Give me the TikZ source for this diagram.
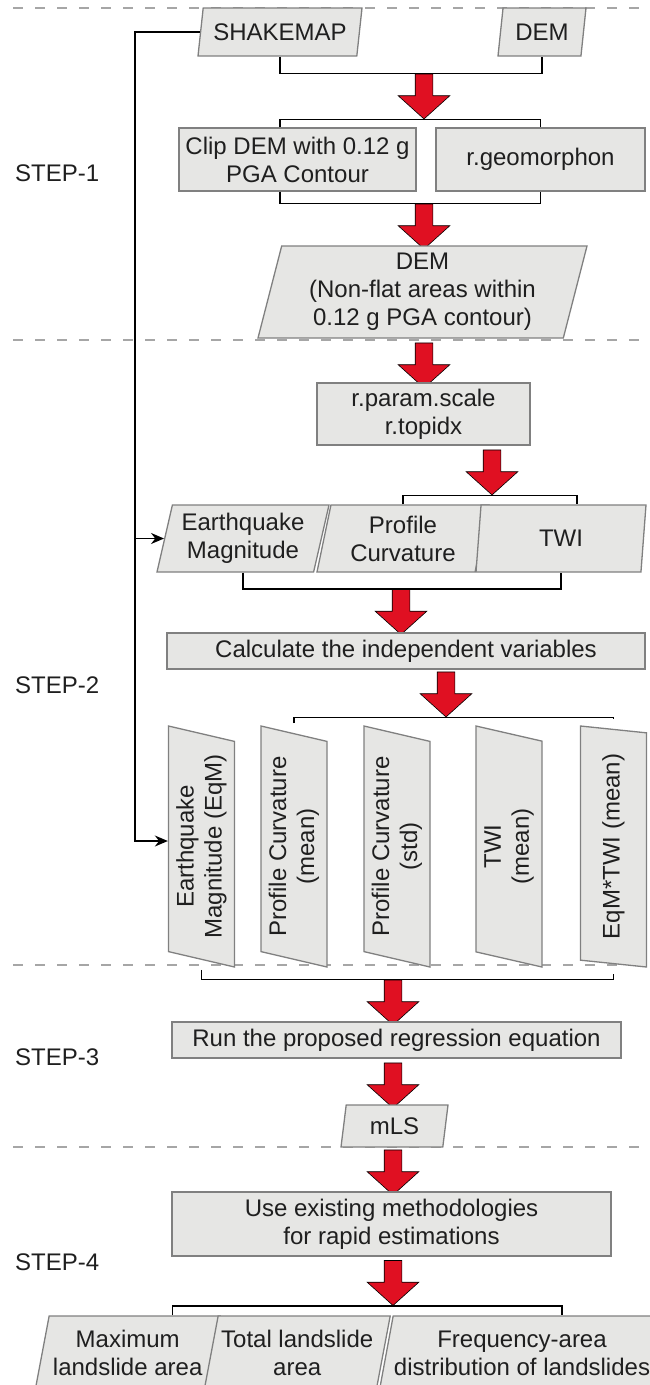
\documentclass[tikz,border=0pt]{standalone}
\usepackage{fontspec}
\setmainfont{Liberation Sans}
\usetikzlibrary{shapes.geometric,shapes.arrows,arrows.meta}
\definecolor{boxgray}{RGB}{230,230,228}
\definecolor{edgegray}{RGB}{128,128,128}
\definecolor{flowred}{RGB}{224,16,34}

\begin{document}
\begin{tikzpicture}
  [x=1pt,y=-1pt,
   every node/.style={font=\fontsize{24}{28}\selectfont,text=black!88,inner sep=0pt,align=center},
   procbox/.style={rectangle,draw=edgegray,fill=boxgray,line width=1.3pt},
   databox/.style={trapezium,trapezium left angle=73,trapezium right angle=107,
     trapezium stretches body,draw=edgegray,fill=boxgray,line width=1.3pt},
   fatarrow/.style={single arrow,draw=black,fill=flowred,line width=0.6pt,rotate=-90,
     inner xsep=0pt,inner ysep=8.5pt,minimum height=45pt,single arrow head extend=17pt,
     single arrow tip angle=96},
   link/.style={draw,line width=1.4pt},
   feed/.style={link,-{Stealth[length=13pt,width=11pt]}},
   divider/.style={draw=black!35,line width=1.2pt,dash pattern=on 10pt off 12pt}]

  \useasboundingbox (0,0) rectangle (649,1385);

  % dividers between the steps
  \draw[divider] (13,8) -- (649,8);
  \draw[divider] (13,340) -- (649,340);
  \draw[divider] (13,965) -- (649,965);
  \draw[divider] (13,1147) -- (649,1147);

  \node[anchor=west] (s1) at (15,173) {STEP-1};
  \node[anchor=west] (s2) at (15,685) {STEP-2};
  \node[anchor=west] (s3) at (15,1057) {STEP-3};
  \node[anchor=west] (s4) at (15,1262) {STEP-4};

  % step 1
  \node[databox,minimum width=164pt,minimum height=48pt] (shake) at (280,32) {SHAKEMAP};
  \node[databox,minimum width=88pt,minimum height=48pt] (dem) at (542,32) {DEM};
  \node[fatarrow] (a1) at (424,92.5) {};
  \node[procbox,minimum width=237pt,minimum height=63pt] (clip) at (297.5,159.5)
    {Clip DEM with 0.12 g\\PGA Contour};
  \node[procbox,minimum width=209pt,minimum height=63pt] (geo) at (540.5,159.5) {r.geomorphon};
  \node[fatarrow] (a2) at (424,222.5) {};
  \node[databox,minimum width=329pt,minimum height=92pt] (demnf) at (422.5,292)
    {DEM\\(Non-flat areas within\\0.12 g PGA contour)};

  % step 2
  \node[fatarrow] (a3) at (424,361.5) {};
  \node[procbox,minimum width=213pt,minimum height=62pt] (param) at (423.5,414)
    {r.param.scale\\r.topidx};
  \node[fatarrow] (a4) at (492,468.5) {};
  \node[databox,minimum width=172pt,minimum height=67pt] (eqm) at (243,538.5)
    {Earthquake\\Magnitude};
  \node[databox,minimum width=172pt,minimum height=67pt] (prof) at (403,538.5)
    {Profile\\Curvature};
  \node[databox,minimum width=170pt,minimum height=67pt] (twi) at (561,538.5) {TWI};
  \node[fatarrow] (a5) at (401,608) {};
  \node[procbox,minimum width=478pt,minimum height=36pt] (calc) at (406,651)
    {Calculate the independent variables};
  \node[fatarrow] (a6) at (446,690.5) {};
  \node[databox,rotate=90,minimum width=241pt,minimum height=66pt] (v1) at (201.5,846.5)
    {Earthquake\\Magnitude (EqM)};
  \node[databox,rotate=90,minimum width=241pt,minimum height=66pt] (v2) at (294,846.5)
    {Profile Curvature\\(mean)};
  \node[databox,rotate=90,minimum width=241pt,minimum height=66pt] (v3) at (397,846.5)
    {Profile Curvature\\(std)};
  \node[databox,rotate=90,minimum width=241pt,minimum height=66pt] (v4) at (509,846.5)
    {TWI\\(mean)};
  \node[databox,rotate=90,minimum width=241pt,minimum height=66pt] (v5) at (613.5,846.5)
    {EqM*TWI (mean)};

  % step 3
  \node[fatarrow] (a7) at (393,998.5) {};
  \node[procbox,minimum width=449pt,minimum height=36pt] (run) at (396.5,1040)
    {Run the proposed regression equation};
  \node[fatarrow] (a8) at (393,1081.5) {};
  \node[databox,minimum width=107pt,minimum height=42pt] (mls) at (394.5,1126) {mLS};

  % step 4
  \node[fatarrow] (a9) at (393,1168.5) {};
  \node[procbox,minimum width=439pt,minimum height=64pt] (use) at (391.5,1224)
    {Use existing methodologies\\for rapid estimations};
  \node[fatarrow] (a10) at (393,1279) {};
  \node[databox,minimum width=185pt,minimum height=74pt] (maxa) at (127.7,1353)
    {Maximum\\landslide area};
  \node[databox,minimum width=186pt,minimum height=74pt] (tot) at (297.2,1353)
    {Total landslide\\area};
  \node[databox,minimum width=285pt,minimum height=74pt] (freq) at (522,1353)
    {Frequency-area\\distribution of landslides};

  % brackets
  \draw[link] (shake.south) |- (a1.tail) -| (dem.south);
  \draw[link] (clip.north -| shake.south) |- (a1.tip) -| (geo.north);
  \draw[link] (clip.south -| shake.south) |- (a2.tail) -| (geo.south);
  \draw[link] (prof.north) |- (a4.tip) -| ([xshift=16pt]twi.north);
  \draw[link] (eqm.south) |- (a5.tail) -| (twi.south);
  \draw[link] ([yshift=10pt]v2.right side) |- (a6.tip) -| ([yshift=10pt]v5.right side);
  \draw[link] ([yshift=-10pt]v1.left side) |- (a7.tail) -| ([yshift=-10pt]v5.left side);
  \draw[link] ([xshift=45pt]maxa.north) |- (a10.tip) -| ([xshift=40pt]freq.north);

  % shakemap feeds the magnitude
  \coordinate (bus) at (135,841);
  \draw[feed] (shake.left side) -| (bus) -- (bus -| v1.north);
  \draw[feed] (bus |- eqm.left side) -- (eqm.left side);
\end{tikzpicture}
\end{document}
